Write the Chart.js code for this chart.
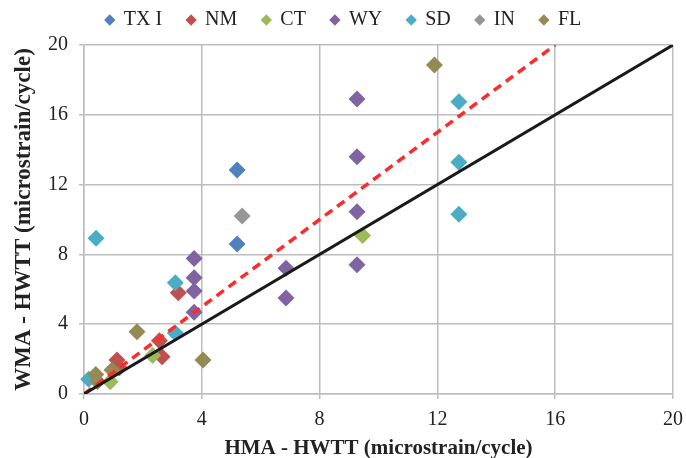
<!DOCTYPE html>
<html>
<head>
<meta charset="utf-8">
<script src="https://cdn.jsdelivr.net/npm/chart.js@4/dist/chart.umd.min.js"></script>
<style>
  body { margin: 0; background: #fff; }
  #wrap { width: 686px; height: 458px; }
</style>
</head>
<body>
<div id="wrap"><canvas id="chart" width="686" height="458"></canvas></div>
<script>
// series (HMA-HWTT x, WMA-HWTT y)
const txiX = [5.2, 5.2];
const txiY = [12.84, 8.6];
const nmX = [3.2, 2.56, 2.65, 1.12, 1.2];
const nmY = [5.8, 3.05, 2.14, 1.95, 1.5];
const ctX = [9.46, 2.33, 0.89];
const ctY = [9.09, 2.2, 0.7];
const wyX = [9.27, 9.27, 9.27, 9.27, 6.86, 6.86, 3.74, 3.74, 3.74, 3.74];
const wyY = [16.9, 13.6, 10.45, 7.4, 7.2, 5.5, 7.77, 6.66, 5.9, 4.68];
const sdX = [12.73, 12.73, 12.73, 0.41, 3.1, 3.1, 0.16];
const sdY = [16.75, 13.28, 10.3, 8.92, 6.38, 3.5, 0.84];
const inX = [5.37];
const inY = [10.2];
const flX = [11.9, 1.8, 4.04, 0.95, 0.4, 0.46];
const flY = [18.85, 3.57, 1.95, 1.37, 1.12, 0.72];

// reference lines
const lineEqX = [0, 20];
const lineEqY = [0, 20];
const lineFitX = [0, 16];
const lineFitY = [0, 20];

const ticks = [0, 4, 8, 12, 16, 20];

const serif = '"Liberation Serif", "Times New Roman", serif';
Chart.defaults.font.family = serif;

function pts(xs, ys) {
  return xs.map((x, i) => ({ x, y: ys[i] }));
}

// later series sit on top of earlier ones, as in the picture
function series(label, xs, ys, color, order) {
  return {
    label,
    data: pts(xs, ys),
    pointStyle: 'rectRot',
    pointRadius: 8.5,
    pointHoverRadius: 8.5,
    backgroundColor: color,
    borderColor: color,
    borderWidth: 0,
    clip: false,
    order,
  };
}

// keep the legend band short so the plot starts where it does in the picture
const legendHeight = {
  id: 'legendHeight',
  beforeLayout(chart) {
    const lg = chart.legend;
    if (!lg || lg._patched) return;
    const fit = lg.fit;
    lg.fit = function () {
      fit.call(this);
      this.height = 60;
    };
    lg._patched = true;
  },
};

function noEdgePadding(s) {
  s.paddingLeft = 0;
  s.paddingRight = 0;
  s.paddingTop = 0;
  s.paddingBottom = 0;
}

new Chart(document.getElementById('chart'), {
  type: 'scatter',
  plugins: [legendHeight],
  data: {
    datasets: [
      series('TX I', txiX, txiY, '#4F81BD', 7),
      series('NM', nmX, nmY, '#C0504D', 6),
      series('CT', ctX, ctY, '#9BBB59', 5),
      series('WY', wyX, wyY, '#8064A2', 4),
      series('SD', sdX, sdY, '#4BACC6', 3),
      series('IN', inX, inY, '#969696', 2),
      series('FL', flX, flY, '#948A54', 1),
      {
        label: 'eq',
        data: pts(lineEqX, lineEqY),
        showLine: true,
        borderColor: '#1a1a1a',
        borderWidth: 3,
        pointRadius: 0,
        order: 0,
      },
      {
        label: 'fit',
        data: pts(lineFitX, lineFitY),
        showLine: true,
        borderColor: '#FF2A2A',
        borderWidth: 3.5,
        borderDash: [9, 6],
        pointRadius: 0,
        order: 0,
      },
    ],
  },
  options: {
    responsive: false,
    animation: false,
    layout: {
      padding: { left: 14, right: 13, top: -15, bottom: -3 },
    },
    plugins: {
      legend: {
        display: true,
        position: 'top',
        labels: {
          usePointStyle: true,
          pointStyle: 'rectRot',
          boxWidth: 8,
          boxHeight: 8,
          padding: 25,
          color: '#222',
          font: { family: serif, size: 20 },
          filter: (item) => item.datasetIndex < 7,
          sort: (a, b) => a.datasetIndex - b.datasetIndex,
        },
      },
      tooltip: { enabled: false },
    },
    scales: {
      x: {
        type: 'linear',
        min: 0,
        max: 20,
        afterBuildTicks: (s) => { s.ticks = ticks.map((v) => ({ value: v })); },
        afterFit: (s) => { s.height = 67; noEdgePadding(s); },
        grid: { color: '#BDBDBD', lineWidth: 1.5, drawTicks: true, tickLength: 5 },
        border: { color: '#BDBDBD', width: 1.5 },
        ticks: { color: '#222', font: { family: serif, size: 20 }, padding: 9 },
        title: {
          display: true,
          text: 'HMA - HWTT (microstrain/cycle)',
          color: '#222',
          font: { family: serif, size: 21, weight: 'bold' },
          padding: { top: 0, bottom: 0 },
        },
      },
      y: {
        type: 'linear',
        min: 0,
        max: 20,
        afterBuildTicks: (s) => { s.ticks = ticks.map((v) => ({ value: v })); },
        afterFit: (s) => { s.width = 70; noEdgePadding(s); },
        grid: { color: '#BDBDBD', lineWidth: 1.5, drawTicks: true, tickLength: 5 },
        border: { color: '#BDBDBD', width: 1.5 },
        ticks: { color: '#222', font: { family: serif, size: 20 }, padding: 11 },
        title: {
          display: true,
          text: 'WMA - HWTT (microstrain/cycle)',
          color: '#222',
          font: { family: serif, size: 23, weight: 'bold' },
          padding: { top: -4, bottom: 0 },
        },
      },
    },
  },
});
</script>
</body>
</html>
